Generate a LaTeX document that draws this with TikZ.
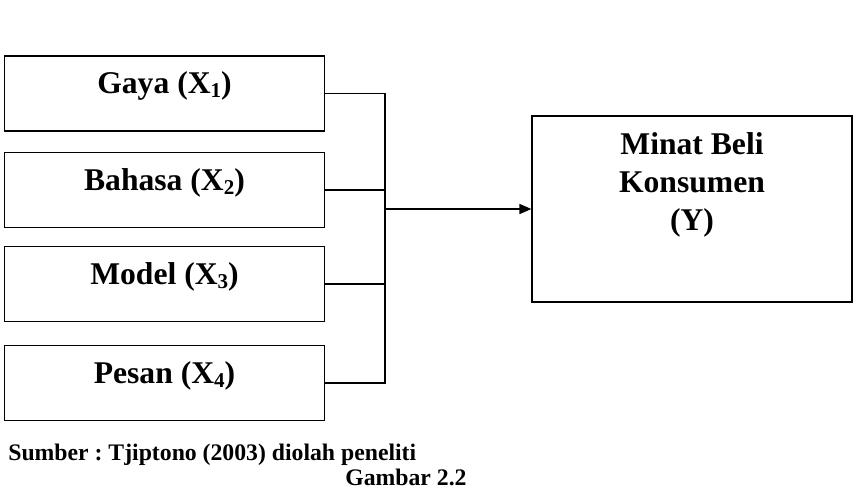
\documentclass[tikz,border=0pt]{standalone}
\usepackage{fontspec}
\setmainfont{Liberation Serif}
\usetikzlibrary{arrows.meta, positioning}
\frenchspacing
\newcommand{\subidx}[1]{\raisebox{-0.3ex}{\fontsize{12}{14}\selectfont #1}}

\begin{document}
\begin{tikzpicture}[
  x=0.02cm, y=-0.02cm,
  varbox/.style={draw, line width=0.7pt, minimum width=6.4cm, minimum height=1.5cm,
                 text height=12pt, text depth=12pt, inner sep=0pt,
                 font=\bfseries\fontsize{18}{21.6}\selectfont},
  ybox/.style={draw, line width=0.7pt, minimum width=6.4cm, minimum height=3.72cm},
  ytext/.style={align=center, inner sep=0pt, font=\bfseries\fontsize{18}{21.6}\selectfont},
  link/.style={line width=0.6pt},
  arr/.style={-{Triangle[length=2.4mm, width=2mm]}, line width=0.9pt},
  captxt/.style={inner sep=0pt, font=\bfseries\fontsize{13.5}{16}\selectfont}
]
\useasboundingbox (0,0) rectangle (865,488);
% independent variables (left)
\node[varbox] (gaya)   at (164.5,93.5) {Gaya (X\subidx{1})};
\node[varbox] (bahasa) at (164.5,190)  {Bahasa (X\subidx{2})};
\node[varbox] (model)  at (164.5,284)  {Model (X\subidx{3})};
\node[varbox] (pesan)  at (164.5,383)  {Pesan (X\subidx{4})};
% dependent variable (right)
\node[ybox] (minat) at (692,209) {};
\node[ytext, anchor=north] (minattxt) at ([yshift=-0.34cm]minat.north)
     {Minat Beli\\Konsumen\\(Y)};
% connectors
\coordinate (bus) at (385,209);
\draw[link] (gaya.east) -| (bus);
\draw[link] (bahasa.east) -| (bus);
\draw[link] (model.east) -| (bus);
\draw[link] (pesan.east) -| (bus);
\draw[arr] (bus) -- (minat.west);
% caption
\node[captxt, anchor=base west] (sumber) at (8,460) {Sumber : Tjiptono (2003) diolah peneliti};
\node[captxt, anchor=base west] (gambar) at (345,485) {Gambar 2.2};
\end{tikzpicture}
\end{document}
